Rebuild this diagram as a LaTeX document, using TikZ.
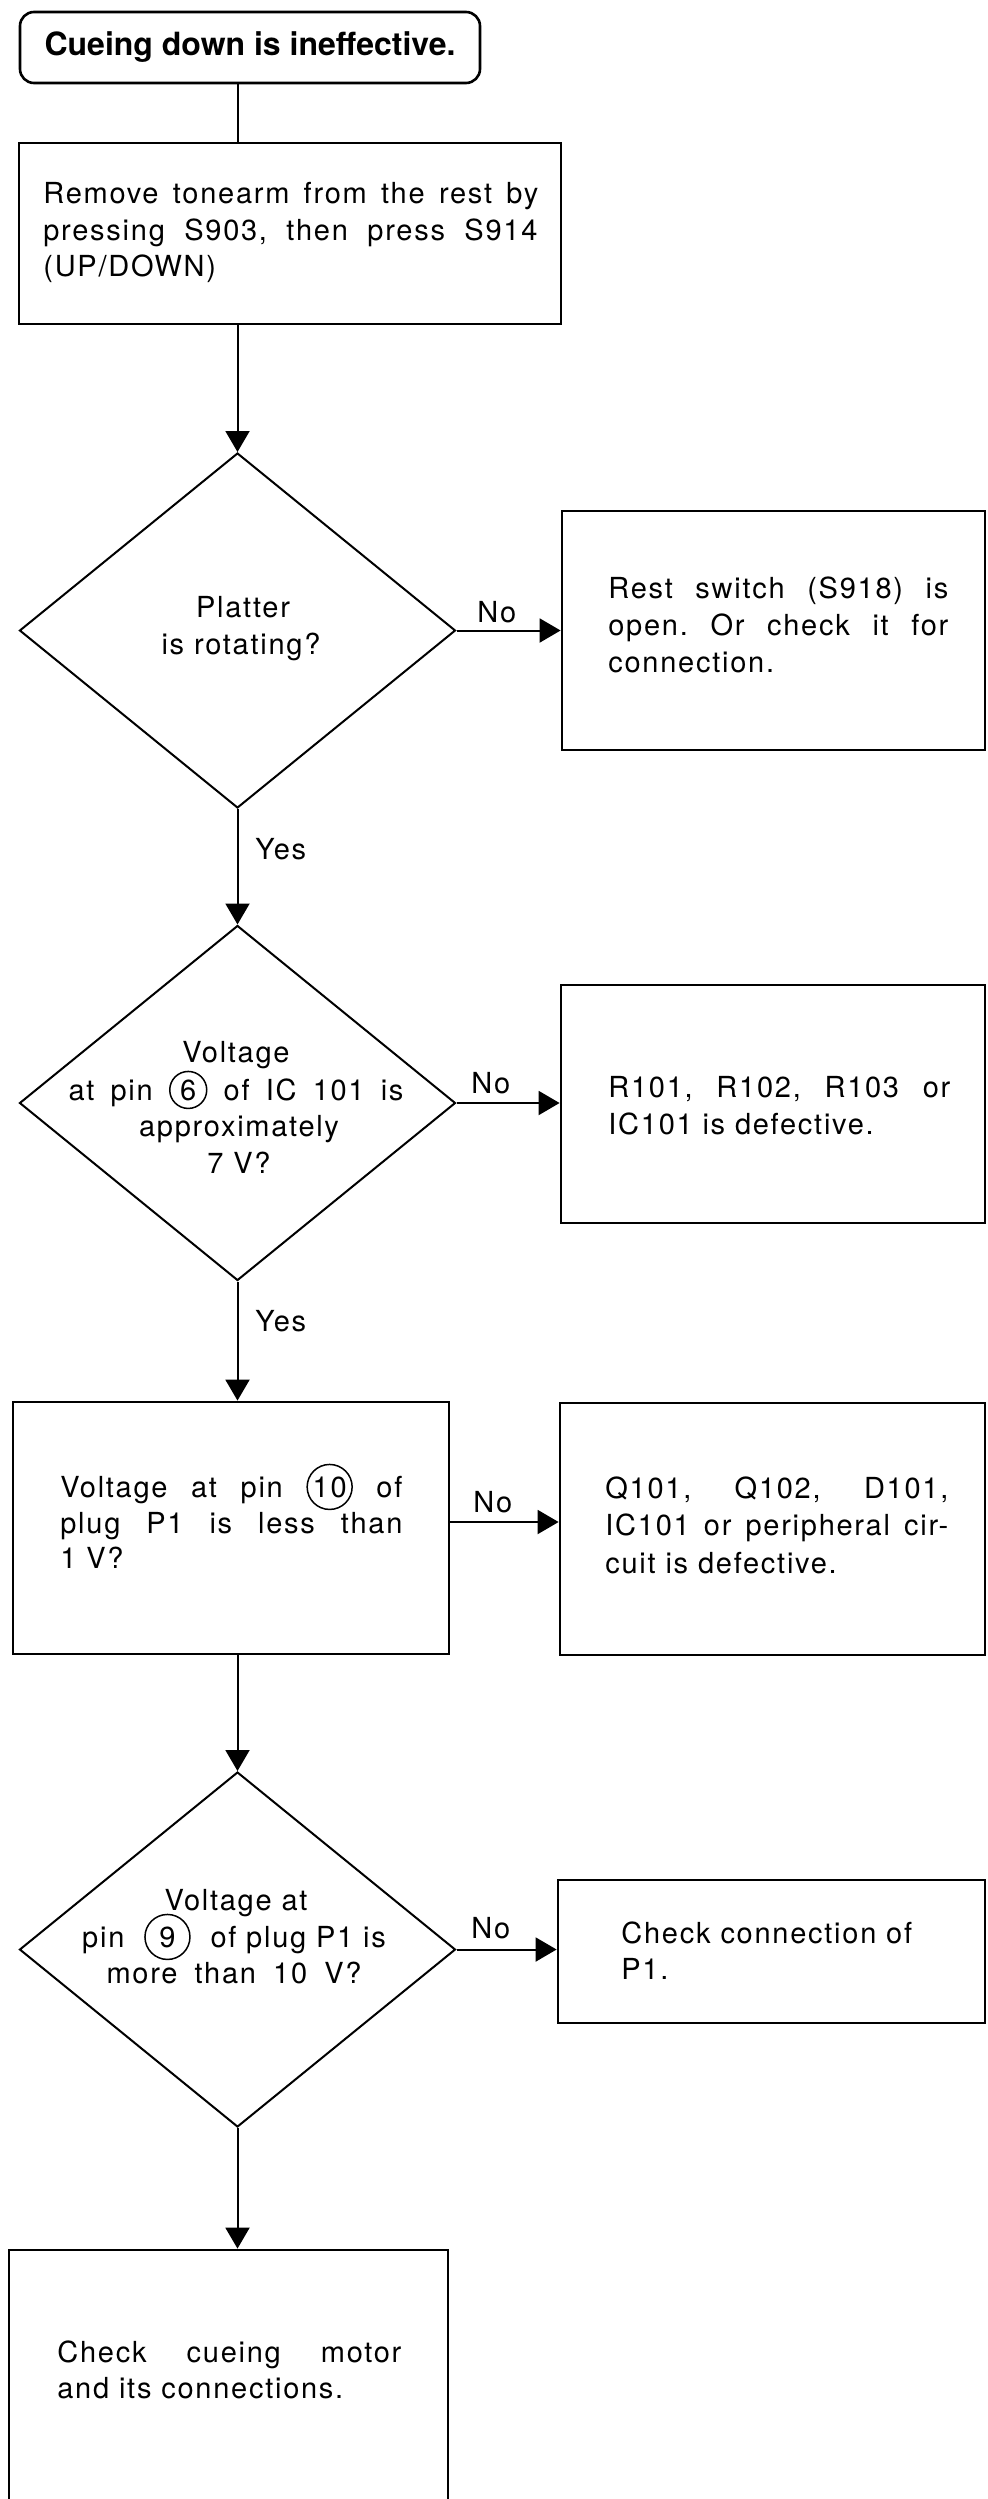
\documentclass[tikz,border=0pt]{standalone}
\usepackage{fontspec}
\setmainfont{TeX Gyre Heros}[LetterSpace=6]
\newfontfamily\titlefont{TeX Gyre Heros}
\usetikzlibrary{shapes.geometric,arrows.meta}
\frenchspacing
\newcommand{\cnum}[3]{\tikz[baseline=(#1.base)]\node[draw,circle,line width=0.75pt,inner sep=0pt,minimum size=#2] (#1) {#3};}
\begin{document}
\begin{tikzpicture}[x=0.5pt,y=-0.5pt,
  startbox/.style={draw,rounded corners=7pt,line width=1.3pt,minimum width=230pt,minimum height=35.5pt,inner sep=0pt,
    font=\titlefont\bfseries\fontsize{16pt}{19pt}\selectfont},
  box/.style={draw,rectangle,line width=1.4pt,inner sep=0pt},
  dia/.style={draw,diamond,line width=1pt,inner sep=0pt,minimum width=218pt,minimum height=177.5pt},
  txt/.style={inner sep=0pt,font=\fontsize{14.5pt}{18.5pt}\selectfont},
  conn/.style={line width=1pt},
  arr/.style={conn,-{Triangle[length=10.5pt,width=12pt]}}]
\fill[white] (0,0) rectangle (988,2499);
\useasboundingbox (0,0) rectangle (988,2499);

% shapes
\node[startbox] (start) at (250,47.5) {Cueing down is ineffective.};
\node[box,minimum width=271pt,minimum height=90.5pt] (b1) at (290,233.5) {};
\node[dia] (d1) at (237.5,630.5) {};
\node[box,minimum width=211.5pt,minimum height=119.5pt] (rest) at (773.5,630.5) {};
\node[dia] (d2) at (237.5,1103) {};
\node[box,minimum width=212pt,minimum height=119pt] (rbox) at (773,1104) {};
\node[box,minimum width=218pt,minimum height=126pt] (b3) at (231,1528) {};
\node[box,minimum width=212.5pt,minimum height=126pt] (qbox) at (772.5,1529) {};
\node[dia] (d3) at (237.5,1949.5) {};
\node[box,minimum width=213.5pt,minimum height=71.5pt] (cbox) at (771.5,1951.5) {};
\node[box,minimum width=219.5pt,minimum height=155pt] (b4) at (228.5,2405) {};

% connectors
\draw[conn] (start.south -| d1.north) -- (b1.north -| d1.north);
\draw[arr] (b1.south -| d1.north) -- (d1.north);
\draw[arr] (d1.east) -- (rest.west |- d1.east);
\draw[arr] (d1.south) -- (d2.north);
\draw[arr] (d2.east) -- (rbox.west |- d2.east);
\draw[arr] (d2.south) -- (b3.north -| d2.south);
\draw[arr] ([yshift=3pt]b3.east) -- ([yshift=3pt]b3.east -| qbox.west);
\draw[arr] (b3.south -| d3.north) -- (d3.north);
\draw[arr] (d3.east) -- (cbox.west |- d3.east);
\draw[arr] (d3.south) -- (b4.north -| d3.south);

% texts
\node[txt,anchor=base west] (t1a) at (43,204) {\makebox[247.5pt][s]{Remove tonearm from the rest by}};
\node[txt,anchor=base west] (t1b) at (43,240.5) {\makebox[247pt][s]{pressing S903, then press S914}};
\node[txt,anchor=base west] (t1c) at (43,277) {(UP/DOWN)};

\node[txt,anchor=base] (p1) at (243,617) {Platter};
\node[txt,anchor=base] (p2) at (241,654) {is rotating?};
\node[txt,anchor=base west] (no1) at (477,622) {No};
\node[txt,anchor=base west] (r1) at (608,598) {\makebox[170pt][s]{Rest switch (S918) is}};
\node[txt,anchor=base west] (r2) at (608,635) {\makebox[170pt][s]{open. Or check it for}};
\node[txt,anchor=base west] (r3) at (608,672) {connection.};
\node[txt,anchor=base west] (yes1) at (255,859) {Yes};

\node[txt,anchor=base] (v1) at (236,1062) {Voltage};
\node[txt,anchor=base] (v2) at (236,1100) {\makebox[167.5pt][s]{at pin \cnum{cA}{18.5pt}{6} of IC 101 is}};
\node[txt,anchor=base] (v3) at (239,1136) {approximately};
\node[txt,anchor=base] (v4) at (239,1173) {7 V?};
\node[txt,anchor=base west] (no2) at (471,1093) {No};
\node[txt,anchor=base west] (s1) at (608,1097) {\makebox[171pt][s]{R101, R102, R103 or}};
\node[txt,anchor=base west] (s2) at (608,1134) {IC101 is defective.};
\node[txt,anchor=base west] (yes2) at (255,1331) {Yes};

\node[txt,anchor=base west] (w1) at (60,1497) {\makebox[171pt][s]{Voltage at pin \cnum{cB}{22.5pt}{10} of}};
\node[txt,anchor=base west] (w2) at (60,1533) {\makebox[171pt][s]{plug P1 is less than}};
\node[txt,anchor=base west] (w3) at (60,1568) {1 V?};
\node[txt,anchor=base west] (no3) at (473,1512) {No};
\node[txt,anchor=base west] (q1) at (605,1498) {\makebox[171.5pt][s]{Q101, Q102, D101,}};
\node[txt,anchor=base west] (q2) at (605,1535) {\makebox[171.5pt][s]{IC101 or peripheral cir-}};
\node[txt,anchor=base west] (q3) at (605,1573) {cuit is defective.};

\node[txt,anchor=base] (x1) at (236,1910) {Voltage at};
\node[txt,anchor=base] (x2) at (234,1947) {pin\hspace{5pt} \cnum{cC}{22.5pt}{9} \hspace{5pt}of plug P1 is};
\node[txt,anchor=base] (x3) at (234,1983) {\makebox[127.5pt][s]{more than 10 V?}};
\node[txt,anchor=base west] (no4) at (471,1938) {No};
\node[txt,anchor=base west] (c1) at (621,1943) {Check connection of};
\node[txt,anchor=base west] (c2) at (621,1979) {P1.};

\node[txt,anchor=base west] (k1) at (57,2362) {\makebox[172pt][s]{Check cueing motor}};
\node[txt,anchor=base west] (k2) at (57,2398) {and its connections.};
\end{tikzpicture}
\end{document}
